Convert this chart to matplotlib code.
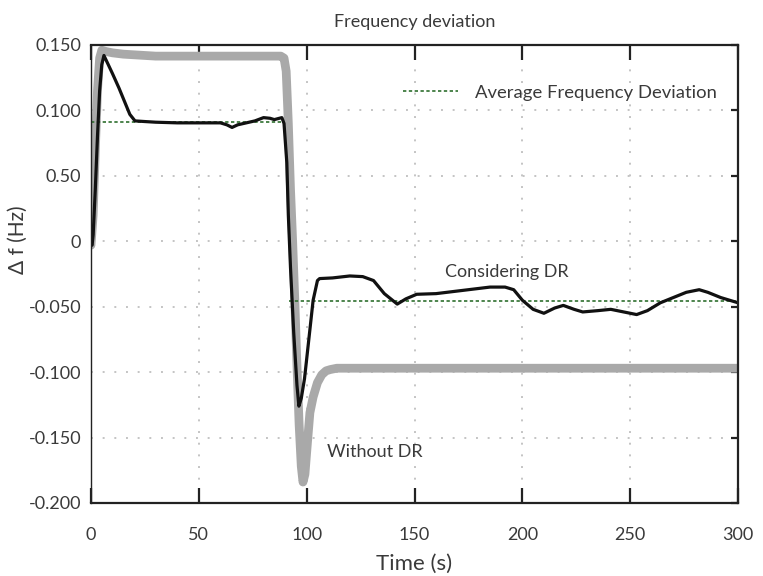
import matplotlib
matplotlib.use("Agg")
import matplotlib.pyplot as plt
from matplotlib.lines import Line2D

# ---- data ----
t_without = [0, 1, 2, 3, 4, 5, 7, 10, 15, 20, 25, 30, 50, 70, 88, 89.5, 90.5, 91.5, 92.5,
             93.5, 94.5, 95.5, 96.5, 97.5, 98.3, 99.2, 100.3, 101.5, 103, 105, 107, 109,
             111, 114, 120, 150, 200, 250, 300]
f_without = [-0.003, 0.02, 0.07, 0.115, 0.140, 0.146, 0.145, 0.144, 0.143, 0.1425, 0.142,
             0.1415, 0.1415, 0.1415, 0.1415, 0.14, 0.13, 0.09, 0.04, 0.0, -0.045, -0.095,
             -0.14, -0.172, -0.184, -0.178, -0.155, -0.131, -0.119, -0.108, -0.102, -0.099,
             -0.098, -0.097, -0.097, -0.097, -0.097, -0.097, -0.097]

t_dr = [0, 0.5, 1, 2, 3, 4, 5, 6, 8, 10, 13, 16, 18, 20.4, 25, 30, 40, 50, 60, 63, 65.4, 68,
        72, 76, 80, 83, 85, 88.5, 89.5, 90.8, 91.5, 92.5, 94, 95.5, 96.4, 97.5, 99, 101, 103,
        105, 106, 112, 120, 126, 131, 136, 142, 146, 151, 160, 170, 180, 185, 192, 196, 200,
        205, 210, 215, 219, 224, 228, 235, 241, 247, 253, 258, 264, 270, 276, 282, 286, 292, 300]
f_dr = [-0.002, -0.003, 0.005, 0.04, 0.08, 0.115, 0.135, 0.142, 0.135, 0.128, 0.117, 0.105,
        0.097, 0.092, 0.0915, 0.091, 0.0905, 0.0905, 0.0905, 0.089, 0.087, 0.089, 0.0905, 0.092,
        0.0945, 0.094, 0.093, 0.0945, 0.09, 0.06, 0.02, -0.02, -0.07, -0.11, -0.126, -0.12,
        -0.105, -0.075, -0.045, -0.03, -0.0285, -0.028, -0.0265, -0.027, -0.03, -0.04, -0.048,
        -0.044, -0.0405, -0.040, -0.038, -0.036, -0.035, -0.035, -0.037, -0.045, -0.052, -0.055,
        -0.051, -0.049, -0.052, -0.054, -0.053, -0.052, -0.054, -0.056, -0.053, -0.047, -0.043,
        -0.039, -0.037, -0.039, -0.043, -0.047]

t_avg1 = [0, 89]
f_avg1 = [0.0915, 0.0915]
t_avg2 = [92, 300]
f_avg2 = [-0.046, -0.046]

x_ticks = [0, 50, 100, 150, 200, 250, 300]
y_ticks = [0.15, 0.10, 0.05, 0.0, -0.05, -0.10, -0.15, -0.20]
y_tick_labels = ["0.150", "0.100", "0.50", "0", "-0.050", "-0.100", "-0.150", "-0.200"]

# ---- figure ----
plt.rcParams['font.family'] = ['Lato', 'DejaVu Sans']
txt = '#3a3a3a'
spine_c = '#222222'

fig = plt.figure(figsize=(7.63, 5.76), dpi=100)
ax = fig.add_axes([91/763, 1 - 503/576, (738-91)/763, (503-45)/576])
ax.set_axisbelow(False)  # axis (grid/ticks) at zorder 2.5

ax.plot(t_without, f_without, color='#a9a9a9', lw=6.3, solid_capstyle='round',
        solid_joinstyle='round', zorder=3)
green = '#2f6f2f'
ax.plot(t_avg1, f_avg1, color=green, lw=1.2, ls=(0, (2, 1.5)), zorder=3.5)
ax.plot(t_avg2, f_avg2, color=green, lw=1.2, ls=(0, (2, 1.5)), zorder=3.5)
ax.plot(t_dr, f_dr, color='#111111', lw=2.3, solid_joinstyle='round', zorder=4)

ax.set_xlim(0, 300)
ax.set_ylim(-0.2, 0.15)
ax.set_xticks(x_ticks)
ax.set_yticks(y_ticks)
ax.set_yticklabels(y_tick_labels)

ax.grid(True, color='#c4c4c4', ls=(0, (1, 5)), lw=1.4)

for s in ax.spines.values():
    s.set_linewidth(1.6)
    s.set_color(spine_c)
    s.set_zorder(5)
ax.spines['left'].set_linewidth(1.0)

ax.tick_params(axis='x', which='major', direction='in', length=11, width=1.6,
               top=True, bottom=True, pad=17, labelsize=13, labelcolor=txt, color=spine_c)
ax.tick_params(axis='y', which='major', direction='in', length=5, width=1.6,
               left=False, right=True, labelleft=True, labelright=False,
               pad=7, labelsize=13, labelcolor=txt, color=spine_c)

ax.set_title("Frequency deviation", fontsize=13, color=txt, pad=13)
ax.set_xlabel("Time (s)", fontsize=16, color=txt, labelpad=8)
ax.set_ylabel("\u0394 f (Hz)", fontsize=15, color=txt)
ax.yaxis.set_label_coords(-0.097, 0.574)

ax.text(193, -0.0237, "Considering DR", fontsize=13, color=txt, ha='center', va='center')
ax.text(109.4, -0.1607, "Without DR", fontsize=13, color=txt, ha='left', va='center')

handle = Line2D([], [], color=green, lw=1.2, ls=(0, (2, 1.5)))
leg = ax.legend([handle], ["Average Frequency Deviation"], loc='center left',
                bbox_to_anchor=((403-91)/647, (503-92.7)/458), frameon=False,
                fontsize=13.3, handlelength=3.0, handletextpad=0.9, borderpad=0,
                borderaxespad=0)
for t in leg.get_texts():
    t.set_color(txt)

fig.savefig("out.png", dpi=100)
